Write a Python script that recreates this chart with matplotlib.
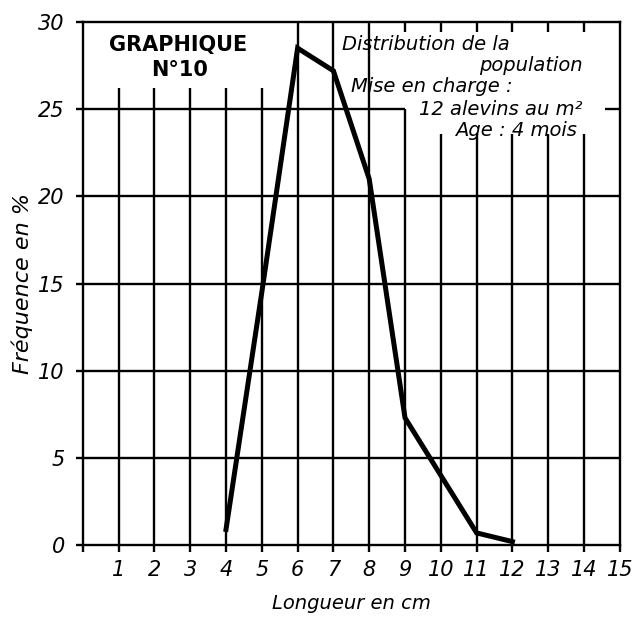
import matplotlib
matplotlib.use("Agg")
import matplotlib.pyplot as plt

longueur = [4, 5, 6, 7, 8, 9, 10, 11, 12]
frequence = [0.9, 14.5, 28.5, 27.2, 21.0, 7.3, 4.0, 0.7, 0.2]

x_ticks = list(range(1, 16))
y_ticks = [0, 5, 10, 15, 20, 25, 30]

fig = plt.figure(figsize=(6.37, 6.28), dpi=100)
ax = fig.add_axes([0.130, 0.132, 0.843, 0.833])
ax.set_xlim(0, 15)
ax.set_ylim(0, 30)

lw = 1.7
# grille dessinée à la main (interrompue par les cartouches)
for x in x_ticks[:-1]:
    if x <= 5:
        ax.vlines(x, 0, 26.2, color="black", lw=lw)
    elif x <= 8:
        ax.vlines(x, 0, 30, color="black", lw=lw)
    elif x == 9:
        ax.vlines(x, 0, 25, color="black", lw=lw)
        ax.vlines(x, 29.4, 30, color="black", lw=lw)
    else:
        ax.vlines(x, 0, 23.6, color="black", lw=lw)
        ax.vlines(x, 29.4, 30, color="black", lw=lw)
for y in [5, 10, 15, 20]:
    ax.hlines(y, 0, 15, color="black", lw=lw)
ax.hlines(25, 0, 9, color="black", lw=lw)
ax.hlines(25, 14.6, 15, color="black", lw=lw)

for s in ax.spines.values():
    s.set_linewidth(lw)

ax.plot(longueur, frequence, color="black", lw=3.6, solid_joinstyle="miter")

ax.set_xticks(x_ticks)
ax.set_xticklabels([str(v) for v in x_ticks], fontsize=15, style="italic")
ax.set_xticks([0], minor=True)
ax.set_yticks(y_ticks)
ax.set_yticklabels([str(v) for v in y_ticks], fontsize=15, style="italic")
ax.tick_params(axis="x", which="both", direction="out", length=5, width=lw, pad=6)
ax.tick_params(axis="y", direction="out", length=5, width=lw, pad=8)

ax.set_xlabel("Longueur en cm", fontsize=14, style="italic", labelpad=10)
ax.set_ylabel("Fréquence en %", fontsize=16, style="italic", labelpad=4)

ax.text(2.65, 28.7, "GRAPHIQUE", ha="center", va="center", fontsize=15, fontweight="bold")
ax.text(2.7, 27.25, "N°10", ha="center", va="center", fontsize=15, fontweight="bold")

txt = dict(fontsize=14, style="italic", va="center")
ax.text(7.25, 28.7, "Distribution de la", ha="left", **txt)
ax.text(13.95, 27.5, "population", ha="right", **txt)
ax.text(7.5, 26.3, "Mise en charge :", ha="left", **txt)
ax.text(13.95, 25.0, "12 alevins au m²", ha="right", **txt)
ax.text(13.8, 23.8, "Age : 4 mois", ha="right", **txt)

fig.savefig("out.png", dpi=100)
